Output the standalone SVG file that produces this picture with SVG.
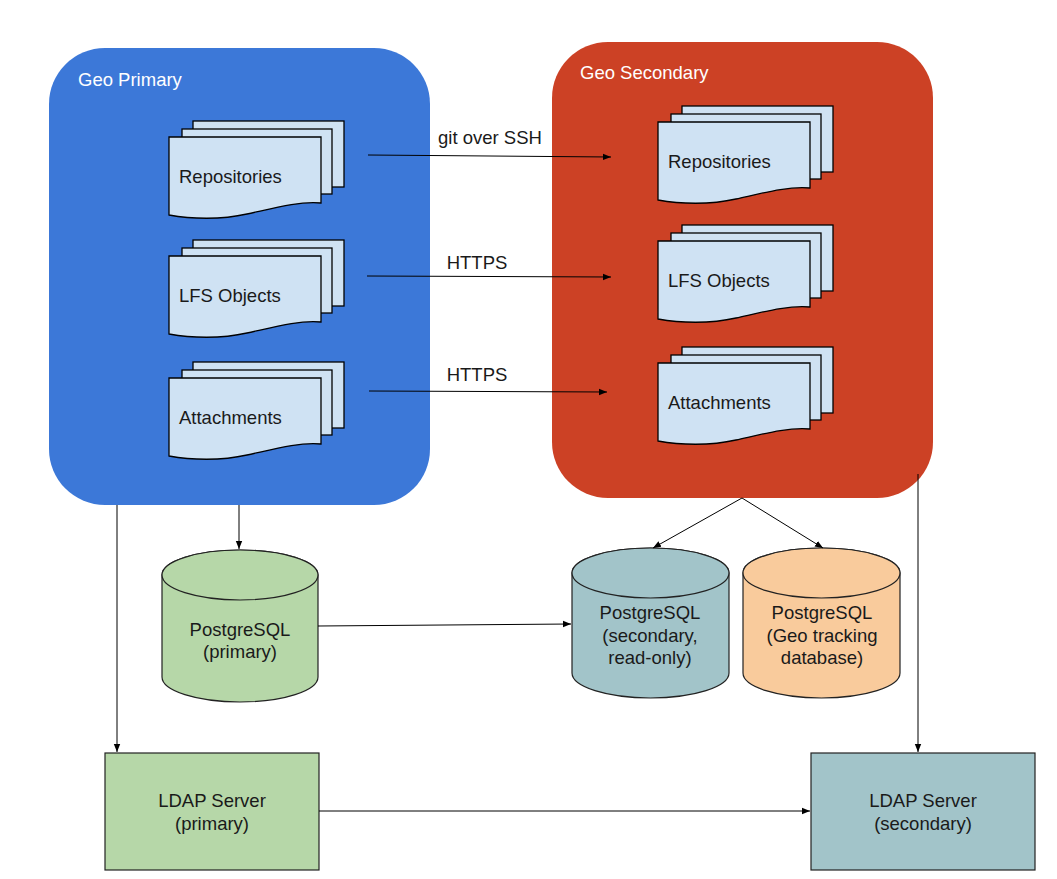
<svg xmlns="http://www.w3.org/2000/svg" xmlns:xlink="http://www.w3.org/1999/xlink" width="1057" height="879" viewBox="0 0 1057 879">
<style>
text{font-family:"Liberation Sans",Arial,sans-serif;font-size:18.5px;fill:#1a1a1a}
.lbl{fill:#ffffff}
.mid{text-anchor:middle}
.doc{fill:#cfe2f3;stroke:#000;stroke-width:1.3}
.conn{fill:none;stroke:#000;stroke-width:1}
.cyl{stroke:#222;stroke-width:1.2}
.box{stroke:#222;stroke-width:1.2}
</style>
<defs>
<marker id="ah" viewBox="0 0 8 8" refX="8" refY="4" markerWidth="8" markerHeight="8" markerUnits="userSpaceOnUse" orient="auto">
<path d="M0,0.8 L8,4 L0,7.2 Z" fill="#000"/>
</marker>
<g id="stack">
<rect class="doc" x="24" y="-16" width="151" height="66"/>
<rect class="doc" x="13" y="-8" width="150" height="65"/>
<path class="doc" d="M0,0 H152 V66 C130,64 105,71 78,77 C52,83 22,82 0,78 Z"/>
</g>
</defs>

<g id="geo-primary">
<rect x="49" y="48" width="381" height="457" rx="56" ry="56" fill="#3c78d8"/>
<text class="lbl" x="78" y="86">Geo Primary</text>
</g>
<g id="geo-secondary">
<rect x="552" y="42" width="381" height="456" rx="56" ry="56" fill="#cc4125"/>
<text class="lbl" x="580" y="79">Geo Secondary</text>
</g>

<g id="p-repos">
<use xlink:href="#stack" href="#stack" transform="translate(169,137)"/>
<text x="179" y="183">Repositories</text>
</g>
<g id="p-lfs">
<use xlink:href="#stack" href="#stack" transform="translate(169,256)"/>
<text x="179" y="302">LFS Objects</text>
</g>
<g id="p-attach">
<use xlink:href="#stack" href="#stack" transform="translate(169,378)"/>
<text x="179" y="424">Attachments</text>
</g>
<g id="s-repos">
<use xlink:href="#stack" href="#stack" transform="translate(658,122)"/>
<text x="668" y="168">Repositories</text>
</g>
<g id="s-lfs">
<use xlink:href="#stack" href="#stack" transform="translate(658,241)"/>
<text x="668" y="287">LFS Objects</text>
</g>
<g id="s-attach">
<use xlink:href="#stack" href="#stack" transform="translate(658,363)"/>
<text x="668" y="409">Attachments</text>
</g>

<g id="pg-primary">
<path class="cyl" fill="#b6d7a8" d="M162,575 V677 A78,25 0 0 0 318,677 V575 A78,25 0 0 0 162,575 Z"/>
<ellipse class="cyl" fill="#b6d7a8" cx="240" cy="575" rx="78" ry="25"/>
<text class="mid" x="240" y="636">PostgreSQL</text>
<text class="mid" x="240" y="658">(primary)</text>
</g>
<g id="pg-secondary">
<path class="cyl" fill="#a2c4c9" d="M572,573 V673 A78.5,25 0 0 0 729,673 V573 A78.5,25 0 0 0 572,573 Z"/>
<ellipse class="cyl" fill="#a2c4c9" cx="650.5" cy="573" rx="78.5" ry="25"/>
<text class="mid" x="650" y="619">PostgreSQL</text>
<text class="mid" x="650" y="642">(secondary,</text>
<text class="mid" x="650" y="664">read-only)</text>
</g>
<g id="pg-tracking">
<path class="cyl" fill="#f9cb9c" d="M743,573 V673 A78.5,25 0 0 0 900,673 V573 A78.5,25 0 0 0 743,573 Z"/>
<ellipse class="cyl" fill="#f9cb9c" cx="821.5" cy="573" rx="78.5" ry="25"/>
<text class="mid" x="822" y="619">PostgreSQL</text>
<text class="mid" x="822" y="642">(Geo tracking</text>
<text class="mid" x="822" y="664">database)</text>
</g>

<g id="ldap-primary">
<rect class="box" x="105" y="753" width="214" height="117" fill="#b6d7a8"/>
<text class="mid" x="212" y="807">LDAP Server</text>
<text class="mid" x="212" y="830">(primary)</text>
</g>
<g id="ldap-secondary">
<rect class="box" x="811" y="753" width="224" height="117" fill="#a2c4c9"/>
<text class="mid" x="923" y="807">LDAP Server</text>
<text class="mid" x="923" y="830">(secondary)</text>
</g>

<g id="connectors">
<line class="conn" x1="368" y1="155" x2="611" y2="157" marker-end="url(#ah)"/>
<text class="mid" x="490" y="144">git over SSH</text>
<line class="conn" x1="367" y1="276" x2="611" y2="277" marker-end="url(#ah)"/>
<text class="mid" x="477" y="269">HTTPS</text>
<line class="conn" x1="369" y1="391" x2="607" y2="392" marker-end="url(#ah)"/>
<text class="mid" x="477" y="381">HTTPS</text>
<line class="conn" x1="117" y1="505" x2="117" y2="752" marker-end="url(#ah)"/>
<line class="conn" x1="239" y1="505" x2="239" y2="549" marker-end="url(#ah)"/>
<line class="conn" x1="318" y1="626" x2="571" y2="624" marker-end="url(#ah)"/>
<line class="conn" x1="742" y1="498" x2="653" y2="548" marker-end="url(#ah)"/>
<line class="conn" x1="742" y1="498" x2="823" y2="548" marker-end="url(#ah)"/>
<line class="conn" x1="918" y1="474" x2="918" y2="752" marker-end="url(#ah)"/>
<line class="conn" x1="319" y1="811" x2="810" y2="811" marker-end="url(#ah)"/>
</g>
</svg>
